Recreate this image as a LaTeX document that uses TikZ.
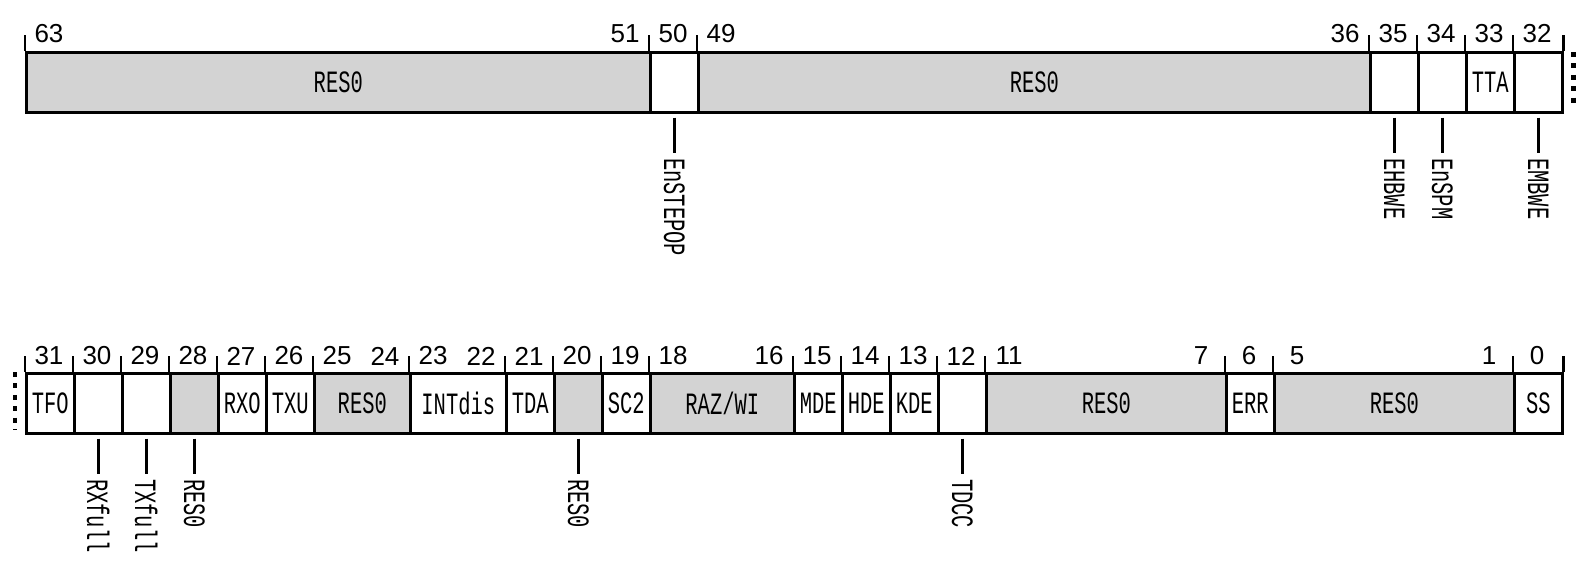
\documentclass[tikz,border=0pt]{standalone}
\usepackage{fontspec}
\setmainfont{Liberation Sans}
\newfontfamily\labfont{Liberation Mono}[FakeStretch=0.66]
\definecolor{resgray}{RGB}{211,211,211}
% #1 name, #2 row top y, #3 first cell index, #4 number of cells, #5 extra style, #6 text
\newcommand\fld[6]{\node[fieldbox,#5,minimum width={#4*24pt},anchor=north west] (#1) at ({25+48*#3},#2) {#6};}
% #1 field, #2 label name, #3 text
\newcommand\leadr[3]{\node[leaderlab] (#2) at ([yshift=-19.5pt]#1.south) {#3};
  \draw[leader] (#1.south) -- (#2.west);}
\begin{document}
\begin{tikzpicture}[x=0.5pt,y=-0.5pt,
  fieldbox/.style={draw, line width=1.3pt, inner sep=0pt, minimum height=30pt, fill=white,
    font=\labfont\fontsize{15.5}{15.5}\selectfont},
  res/.style={fill=resgray},
  bitnum/.style={inner sep=0pt, font=\fontsize{13}{13}\selectfont},
  leaderlab/.style={rotate=-90, anchor=west, inner sep=2.5pt, font=\labfont\fontsize{15.5}{15.5}\selectfont},
  tickline/.style={line width=1.3pt},
  leader/.style={line width=1.3pt, shorten <=2pt},
  dotmark/.style={line width=2.3pt, dash pattern=on 2.5pt off 3.2pt}]
\useasboundingbox (0,0) rectangle (1591,579);
% ---------- upper row: bits 63..32 ----------
\fld{f63}{51}{0}{13}{res}{RES0}
\fld{f50}{51}{13}{1}{}{}
\fld{f49}{51}{14}{14}{res}{RES0}
\fld{f35}{51}{28}{1}{}{}
\fld{f34}{51}{29}{1}{}{}
\fld{f33}{51}{30}{1}{}{TTA}
\fld{f32}{51}{31}{1}{}{}
\foreach \f in {f63,f50,f49,f35,f34,f33,f32}
  \draw[tickline] (\f.north west) -- ++(0,-16);
\draw[tickline] (f32.north east) -- ++(0,-16);
\foreach \b in {63,51,50,49,36,35,34,33,32}
  \node[bitnum] (n\b) at ({25+48*(63-\b)+24},34) {\b};
\leadr{f50}{lEnSTEPOP}{EnSTEPOP}
\leadr{f35}{lEHBWE}{EHBWE}
\leadr{f34}{lEnSPM}{EnSPM}
\leadr{f32}{lEMBWE}{EMBWE}
\draw[dotmark] ([xshift=5pt,yshift=-0.5pt]f32.north east) -- ([xshift=5pt,yshift=3.5pt]f32.south east);
% ---------- lower row: bits 31..0 ----------
\fld{f31}{372}{0}{1}{}{TFO}
\fld{f30}{372}{1}{1}{}{}
\fld{f29}{372}{2}{1}{}{}
\fld{f28}{372}{3}{1}{res}{}
\fld{f27}{372}{4}{1}{}{RXO}
\fld{f26}{372}{5}{1}{}{TXU}
\fld{f25}{372}{6}{2}{res}{RES0}
\fld{f23}{372}{8}{2}{}{INTdis}
\fld{f21}{372}{10}{1}{}{TDA}
\fld{f20}{372}{11}{1}{res}{}
\fld{f19}{372}{12}{1}{}{SC2}
\fld{f18}{372}{13}{3}{res}{RAZ/WI}
\fld{f15}{372}{16}{1}{}{MDE}
\fld{f14}{372}{17}{1}{}{HDE}
\fld{f13}{372}{18}{1}{}{KDE}
\fld{f12}{372}{19}{1}{}{}
\fld{f11}{372}{20}{5}{res}{RES0}
\fld{f6}{372}{25}{1}{}{ERR}
\fld{f5}{372}{26}{5}{res}{RES0}
\fld{f0}{372}{31}{1}{}{SS}
\foreach \f in {f31,f30,f29,f28,f27,f26,f25,f23,f21,f20,f19,f18,f15,f14,f13,f12,f11,f6,f5,f0}
  \draw[tickline] (\f.north west) -- ++(0,-16);
\draw[tickline] (f0.north east) -- ++(0,-16);
\foreach \b in {31,30,29,28,27,26,25,24,23,22,21,20,19,18,16,15,14,13,12,11,7,6,5,1,0}
  \node[bitnum] (n\b) at ({25+48*(31-\b)+24},356) {\b};
\leadr{f30}{lRXfull}{RXfull}
\leadr{f29}{lTXfull}{TXfull}
\leadr{f28}{lRESa}{RES0}
\leadr{f20}{lRESb}{RES0}
\leadr{f12}{lTDCC}{TDCC}
\draw[dotmark] ([xshift=-5pt]f31.north west) -- ([xshift=-5pt,yshift=2.5pt]f31.south west);
\end{tikzpicture}
\end{document}
